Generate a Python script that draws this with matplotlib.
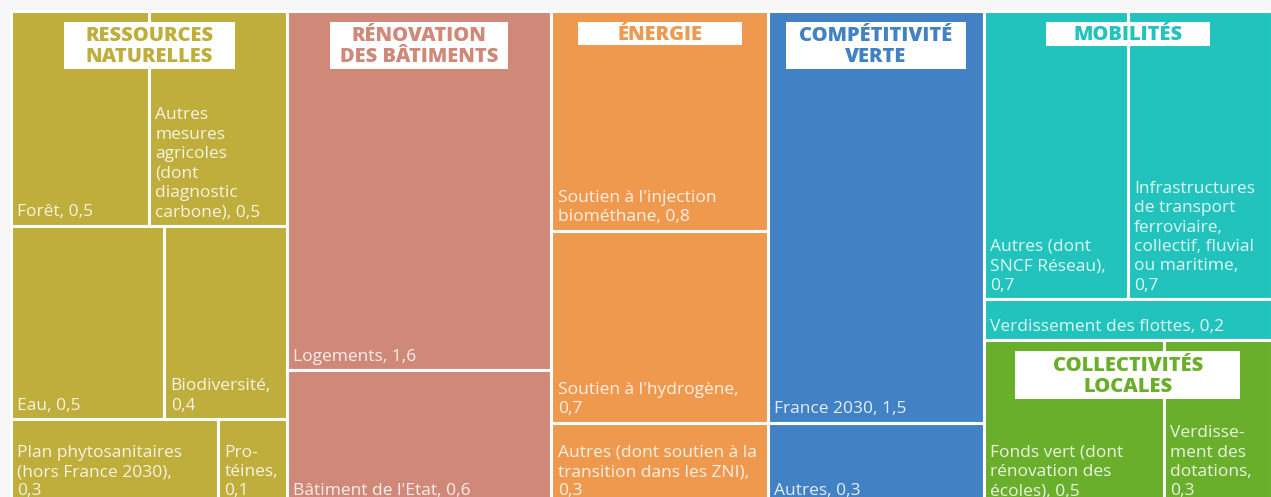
import matplotlib
matplotlib.use("Agg")
import matplotlib.pyplot as plt
from matplotlib.patches import Rectangle

plt.rcParams["font.family"] = ["Open Sans", "DejaVu Sans"]

# Budget by theme (Md€), one list per theme
ressources_labels = ["Forêt", "Autres\nmesures\nagricoles\n(dont\ndiagnostic\ncarbone)",
                     "Eau", "Biodiversité",
                     "Plan phytosanitaires\n(hors France 2030)", "Pro-\ntéines"]
ressources_values = [0.5, 0.5, 0.5, 0.4, 0.3, 0.1]

renovation_labels = ["Logements", "Bâtiment de l'Etat"]
renovation_values = [1.6, 0.6]

energie_labels = ["Soutien à l'injection\nbiométhane", "Soutien à l'hydrogène",
                  "Autres (dont soutien à la\ntransition dans les ZNI)"]
energie_values = [0.8, 0.7, 0.3]

competitivite_labels = ["France 2030", "Autres"]
competitivite_values = [1.5, 0.3]

mobilites_labels = ["Autres (dont\nSNCF Réseau)",
                    "Infrastructures\nde transport\nferroviaire,\ncollectif, fluvial\nou maritime",
                    "Verdissement des flottes"]
mobilites_values = [0.7, 0.7, 0.2]

collectivites_labels = ["Fonds vert (dont\nrénovation des\nécoles)", "Verdisse-\nment des\ndotations"]
collectivites_values = [0.5, 0.3]

group_titles = ["RESSOURCES\nNATURELLES", "RÉNOVATION\nDES BÂTIMENTS", "ÉNERGIE",
                "COMPÉTITIVITÉ\nVERTE", "MOBILITÉS", "COLLECTIVITÉS\nLOCALES"]

# layout: how the items of each theme are split into rows, and whether the
# value is written on its own line
row_sizes = [[2, 2, 2], [1, 1], [1, 1, 1], [1, 1], [2, 1], [2]]
value_newline = [
    [False, False, False, True, True, True],
    [False, False],
    [False, True, True],
    [False, False],
    [True, True, False],
    [False, True],
]
columns = [[0], [1], [2], [3], [4, 5]]
colors = ["#BFAE3B", "#D08878", "#EE994E", "#4282C4", "#22C3BC", "#6AAF2C"]
title_box = [(171, 47), (178, 47), (164, 23), (180, 47), (164, 24), (225, 48)]

groups = [
    (ressources_labels, ressources_values),
    (renovation_labels, renovation_values),
    (energie_labels, energie_values),
    (competitivite_labels, competitivite_values),
    (mobilites_labels, mobilites_values),
    (collectivites_labels, collectivites_values),
]

W, H = 1271, 497
fig = plt.figure(figsize=(W / 100, H / 100), dpi=100, facecolor="#f6f6f6")
left, right, top, bottom = 11, 1272, 11, 505
ax = fig.add_axes([left / W, 1 - bottom / H, (right - left) / W, (bottom - top) / H])
total = sum(sum(v) for _, v in groups)
ax.set_xlim(0, total)
ax.set_ylim(1, 0)
ax.axis("off")


def fmt(v):
    return f"{v:.1f}".replace(".", ",")


group_tops = {}
x0 = 0
for col in columns:
    col_sum = sum(sum(groups[g][1]) for g in col)
    y0 = 0
    for g in col:
        labels, values = groups[g]
        g_sum = sum(values)
        g_h = g_sum / col_sum
        group_tops[g] = (x0 + col_sum / 2, y0)
        i = 0
        ry = y0
        for n in row_sizes[g]:
            row_vals = values[i:i + n]
            r_sum = sum(row_vals)
            r_h = g_h * r_sum / g_sum
            rx = x0
            for k in range(n):
                v = values[i + k]
                w = col_sum * v / r_sum
                ax.add_patch(Rectangle((rx, ry), w, r_h, facecolor=colors[g],
                                       edgecolor="white", linewidth=2.2, clip_on=False))
                sep = ",\n" if value_newline[g][i + k] else ", "
                ax.annotate(labels[i + k] + sep + fmt(v), xy=(rx, ry + r_h),
                            xytext=(4.5, 4), textcoords="offset points",
                            ha="left", va="bottom", fontsize=12.5, linespacing=1.28,
                            color="white", alpha=0.86, annotation_clip=False)
                rx += w
            ry += r_h
            i += n
        y0 += g_h
    x0 += col_sum

# theme titles in white boxes at the top of each block
inv = fig.transFigure.inverted()
for g, title in enumerate(group_titles):
    cx, gy = group_tops[g]
    px, py = ax.transData.transform((cx, gy))
    bw, bh = title_box[g]
    fx, fy = inv.transform((px - bw / 2, py - 11 - bh))
    fig.add_artist(Rectangle((fx, fy), bw / W, bh / H, transform=fig.transFigure,
                             facecolor="white", edgecolor="none"))
    fig.text(fx + bw / W / 2, fy + bh / H / 2 - 1 / H, title, ha="center", va="center",
             fontsize=14.5, fontweight=800, color=colors[g], linespacing=1.05)

fig.savefig("out.png", dpi=100, facecolor=fig.get_facecolor())
